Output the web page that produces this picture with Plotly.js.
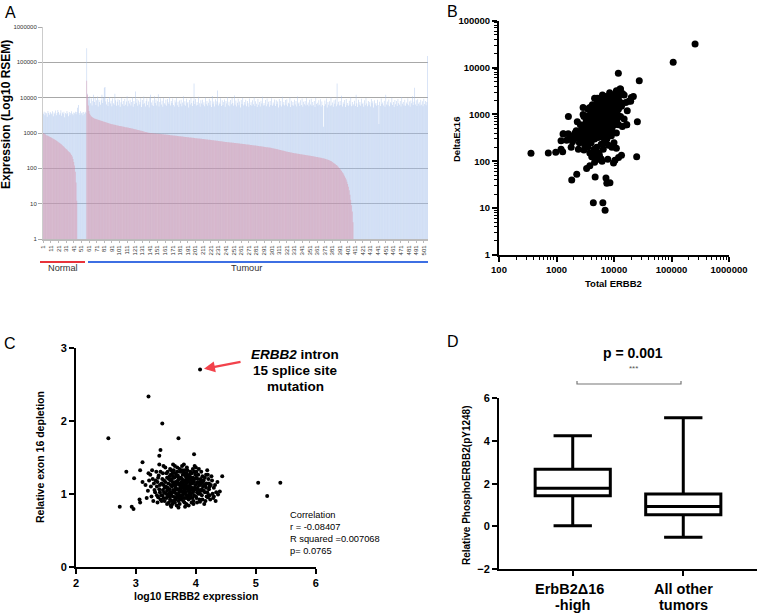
<!DOCTYPE html>
<html>
<head>
<meta charset="utf-8">
<script src="https://cdn.plot.ly/plotly-3.0.1.min.js"></script>
<style>
  html, body { margin: 0; padding: 0; background: #fff; }
  #chart { width: 757px; height: 615px; }
</style>
</head>
<body>
<div id="chart"></div>
<script>
// ---- Panel A: per-sample RSEM expression (samples 1..506) ----
const totalRsem = [
  3500,4000,3200,3800,3600,2900,4200,3700,3300,3900,
  3600,3400,4100,3000,3800,3500,4300,3200,3700,4500,
  3900,3300,3600,4400,3100,3800,3500,4000,2800,3700,
  3400,4200,3600,3000,3900,3300,3700,4100,3500,3200,
  3800,3600,4000,3400,3900,5200,6200,3700,3300,4100,
  3600,3800,3200,3900,3500,4000,3700,
  250000,13000,10000,8500,11000,7000,9500,6000,8000,12000,
  7500,9800,6200,8400,10800,5600,8800,7600,6300,8500,
  12000,7100,9900,19000,20000,7800,6400,9200,5800,7500,
  10500,6800,8200,5700,9400,7000,6300,13000,8400,5900,
  7700,9000,6100,8600,5500,7400,9800,6500,8000,5800,
  9200,6300,7800,11000,5700,8200,6800,8800,6000,7600,
  10200,5500,8000,6600,15000,7200,9100,5900,8300,6400,
  7500,9600,5400,8600,6500,10800,7000,5600,8100,9400,
  6200,7800,5300,10000,12000,7300,6100,8500,5800,11000,
  7100,8900,6000,7900,12500,5600,7600,9500,6400,8200,
  5500,9900,7000,6300,8700,5900,9200,7400,6600,10500,
  6000,8100,7100,9400,6200,5600,8400,7300,10000,6100,
  7700,5400,8300,6700,8800,5700,7300,11000,6300,7900,
  5900,9300,6900,7500,5300,8600,6400,9800,7100,5800,
  8200,25000,6600,9100,6000,7600,6200,10600,7000,5500,
  8400,6800,8700,6300,7400,5700,10100,6500,8000,5900,
  7200,9300,6100,8200,5400,11200,6700,7800,5600,9000,
  6400,7900,16000,6000,7300,6600,9600,5800,8500,6200,
  7500,8900,5500,8100,6800,10500,6100,7700,5700,8600,
  6500,10000,7100,5900,11500,6300,8300,5600,7200,9300,
  6100,7800,5300,8600,6600,9900,6000,7600,6400,8800,
  5700,8000,6900,5500,9400,6200,7400,5900,8400,6500,
  10300,5800,7900,6700,5400,9100,6300,7500,5600,8200,
  6800,10700,6000,7100,6100,8600,5700,9400,6500,7700,
  5500,8100,6200,9700,5900,7300,6400,8900,5800,8500,
  6600,7800,5300,9200,6100,8000,5600,10600,6400,7500,
  6000,8600,6300,9000,5700,7200,6700,10100,5400,8200,
  6100,7600,5900,8800,6400,8000,5600,10800,6800,7400,
  5800,8400,6200,9500,5500,7700,6500,8100,6000,9800,
  6300,7300,5700,8700,6400,9300,5900,7600,6100,8000,
  5400,10000,6600,7200,6000,8500,6300,9000,5600,7800,
  6200,1500,5800,8300,6500,9400,5300,7500,6300,7900,
  5900,10300,6100,7300,5500,8400,6700,8900,5700,25000,
  6400,7700,6000,8000,6200,11400,5600,7400,6600,8600,
  5400,9100,6100,7100,5900,8200,6400,10200,5700,7600,
  6000,
  6500,8200,5800,12000,7000,5400,8800,6300,7600,5900,
  9300,6600,7200,5500,8500,6100,9800,6800,5700,8000,
  6300,7500,5600,9100,6900,7900,5300,8400,6400,7100,
  5900,8700,6200,1800,7700,5800,9500,6600,7300,6000,
  8200,5500,12000,6400,7800,6100,8900,5700,7400,6800,
  9900,6200,7600,5400,8600,6500,8000,5800,9200,7000,
  6300,8100,5600,10500,6700,7500,6000,8800,5900,7300,
  6600,9600,6100,7800,5500,8300,6900,11000,6200,7700,
  19000,6400,8500,5800,9000,6700,7400,6000,8700,6300,
  7900,5700,9300,6600,8100,6100,7500,150000
];
const deltaNormalStart = 1;
const deltaNormal = [
  1000,960,930,900,870,850,830,810,790,770,
  750,730,710,690,670,650,630,610,590,570,
  550,530,510,490,470,450,430,410,390,370,
  350,335,320,305,290,275,260,240,215,185,
  150,120,80,40,12
];
const deltaTumourStart = 58;
const deltaTumour = [
  30000,12000,6000,4200,3500,3200,3000,2850,2750,2650,2580,2520,
  2500,2460,2420,2380,2340,2300,2260,2220,2180,2140,
  2100,2070,2040,2010,1980,1950,1920,1890,1860,1830,
  1800,1780,1760,1740,1720,1700,1680,1660,1640,1620,
  1600,1585,1570,1555,1540,1525,1510,1495,1480,1465,
  1450,1435,1420,1405,1390,1375,1360,1345,1330,1315,
  1300,1285,1270,1255,1240,1225,1210,1195,1180,1165,
  1150,1135,1120,1105,1090,1075,1060,1045,1030,1020,1010,1005,
  1000,995,990,985,980,975,970,965,
  960,955,950,945,940,935,930,925,920,915,
  910,905,900,895,890,885,880,875,870,865,
  860,855,850,845,840,835,830,825,820,815,
  810,805,800,795,790,785,780,775,770,765,
  760,756,752,748,744,740,736,732,728,724,
  720,716,712,708,704,700,696,692,688,684,
  680,676,672,668,664,660,656,652,648,644,
  640,636,632,628,624,620,616,612,608,604,
  600,596,592,588,584,580,576,572,568,564,
  560,557,554,551,548,545,542,539,536,533,
  530,527,524,521,518,515,512,509,506,503,
  500,497,494,491,488,485,482,479,476,473,
  470,467,464,461,458,455,452,449,446,443,
  440,437,434,431,428,425,422,419,416,413,
  410,407,404,401,398,395,392,389,386,383,
  380,376,372,368,364,360,356,352,348,344,
  340,336,332,328,324,320,316,312,308,304,
  300,297,294,291,288,285,282,279,276,273,
  270,268,266,264,262,260,258,256,254,252,
  250,248,246,244,242,240,238,236,234,232,
  230,228,226,224,222,220,218,216,214,212,
  210,208,206,204,202,200,198,196,194,192,
  190,187,184,181,178,175,172,168,164,160,
  155,150,145,140,135,130,125,120,114,108,
  102,96,90,84,78,72,66,60,54,48,
  42,36,30,24,18,13,9,6,3
];
const sampleTicks = [1,11,21,31,41,51,61,71,81,91,101,111,121,131,141,151,161,171,181,191,
  201,211,221,231,241,251,261,271,281,291,301,311,321,331,341,351,361,371,381,391,
  401,411,421,431,441,451,461,471,481,491,501];
const exprTicks = [1, 10, 100, 1000, 10000, 100000, 1000000];

// ---- Panel B: total ERBB2 vs DeltaEx16 ----
const panelBPoints = [
  [257000,31800],[107000,13000],[27500,5200],[11900,7600],[12700,3500],[360,148],[720,150],[970,155],
  [1200,180],[1280,160],[1600,385],[1610,900],[1320,385],[1200,275],[1840,40],[2250,53],[3000,175],
  [4370,13],[7000,9],[6400,13],[7250,44],[8500,35],[7500,34],[24800,125],[25500,700],[16700,600],
  [21700,2400],[19500,1900],[3340,70],[3800,80],[4700,46],[9800,92],[10400,105],[12000,120],[13500,135],
  [5100,2200],[2900,1400],[5300,110],[5850,115],[4100,125],[4400,140],
  [5000,700],[5500,800],[6000,650],[4500,600],[6500,900],[7000,1000],[4000,500],[5200,550],[5800,1100],[6200,750],
  [4800,850],[7500,1200],[3800,420],[6800,600],[5400,950],[4300,700],[8000,1300],[6100,500],[5600,1300],[4700,450],
  [7200,800],[3600,600],[6600,1500],[5100,380],[8500,1000],[4200,900],[7800,700],[5900,1700],[3300,350],[6900,1150],
  [4400,350],[9000,1500],[5300,1200],[6300,420],[7600,1600],[4100,780],[8200,900],[5700,480],[4900,1000],[6700,1300],
  [3500,800],[9500,1800],[7100,500],[5000,1400],[8800,1200],[4600,300],[6400,1900],[5500,600],[7400,950],[3900,650],
  [10000,2000],[6000,1000],[4500,1150],[8300,620],[5200,850],[7000,2100],[3700,300],[6500,350],[9200,800],[5800,750],
  [11000,1700],[4800,550],[6200,1600],[7700,1100],[5400,450],[8600,1500],[4000,1000],[6800,420],[10500,1300],[5100,650],
  [12000,2400],[3400,500],[7300,1400],[6100,880],[4300,380],[9800,1100],[5600,2200],[8000,480],[4700,1200],[6900,700],
  [11500,1000],[3200,450],[7900,1800],[5300,320],[6600,1050],[4100,560],[9400,2500],[5900,900],[7500,650],[4900,750],
  [2000,300],[2500,250],[1500,280],[1800,200],[2200,450],[2800,350],[3000,900],[2600,600],[1700,350],[2400,180],
  [3100,220],[2900,1000],[1300,380],[1900,260],[2300,700],[3500,1300],[2700,450],[3200,250],[2100,400],[2600,330],
  [13000,3500],[14000,2800],[15000,2600],[12500,3200],[16000,1800],[18000,1900],[20000,2300],[13500,1500],[17000,1200],[11000,3200],
  [10000,2600],[9000,2200],[12000,600],[14000,550],[11000,400],[13000,900],[10000,250],[9000,350],[15000,800],[16500,600],
  [8000,220],[7000,250],[6000,230],[5000,200],[4500,180],[5500,150],[6500,180],[7500,300],[8500,350],[9500,420],
  [4000,250],[3500,200],[3000,400],[4200,1600],[3800,1400],[4600,2200],[5200,2000],[6300,2600],[7200,2400],[8400,2900],
  [5000,120],[6000,110],[4600,95],[6200,100],[5600,130],[4200,140],[3800,150],[7800,110],[9200,200],[11000,190],
  [5500,1000],[6000,1200],[6500,1100],[7000,800],[7500,900],[8000,1000],[5000,900],[4500,800],[5800,600],[6300,700],
  [6800,1400],[7300,1700],[7800,1500],[8300,1200],[8800,1400],[9300,1600],[9800,1900],[10500,2200],[11000,2600],[12000,2000],
  [4300,550],[4700,650],[5100,750],[5600,900],[6100,1300],[6600,800],[7100,650],[7600,550],[8100,750],[8600,800],
  [3900,900],[4400,1000],[4900,1300],[5400,1600],[5900,1400],[6400,1200],[6900,950],[7400,1100],[7900,1300],[8400,1700],
  [3600,450],[4100,450],[4600,500],[5100,550],[5600,520],[6100,600],[6600,550],[7100,720],[7600,820],[8100,560],
  [3400,650],[3900,550],[4400,480],[4900,600],[5400,700],[5900,820],[6400,620],[6900,520],[7400,450],[7900,600],
  [9000,700],[9500,900],[10000,1100],[10500,800],[11000,900],[9000,1000],[8500,600],[10000,700],[12000,1300],[13000,1800],
  [3000,600],[3300,750],[3600,950],[4000,1200],[4400,1400],[5000,1700],[5600,1900],[6200,2300],[6800,1800],[7500,2000],
  [2800,500],[3200,380],[3700,350],[4200,320],[4700,380],[5200,420],[5700,380],[6300,330],[6800,300],[7300,380],
  [8000,400],[8700,450],[9400,550],[10200,600],[11200,750],[2500,420],[2300,330],[2700,280],[3300,280],[3900,250]
];
const bXTicks = [100, 1000, 10000, 100000, 1000000];
const bYTicks = [1, 10, 100, 1000, 10000, 100000];

// ---- Panel C: log10 ERBB2 vs relative exon 16 depletion ----
const panelCPoints = [
  [4.07,2.70],[3.21,2.33],[3.44,1.96],[2.54,1.76],[3.71,1.76],[3.41,1.60],[3.97,1.54],[3.39,1.52],
  [3.11,1.43],[2.84,1.30],[2.97,1.21],[3.11,1.16],[3.07,1.32],[2.73,0.82],[2.93,0.82],[2.96,0.79],
  [3.06,0.92],[3.07,0.88],[5.04,1.15],[5.41,1.15],[5.19,0.97],[4.44,1.24],[4.40,1.03],[4.30,0.96],
  [4.37,0.99],[3.21,1.28],[3.46,1.38],[3.59,0.82],[3.71,0.81],[3.82,0.82],[4.07,0.89],
  [3.50,1.10],[3.55,1.00],[3.60,1.20],[3.62,1.05],[3.65,0.95],[3.68,1.15],[3.70,1.25],[3.72,1.02],[3.75,1.10],[3.78,0.98],
  [3.80,1.18],[3.82,1.06],[3.85,1.28],[3.88,0.92],[3.90,1.12],[3.92,1.00],[3.95,1.22],[3.98,1.08],[4.00,0.96],[4.02,1.15],
  [3.52,1.22],[3.57,0.92],[3.63,1.32],[3.66,1.08],[3.71,0.90],[3.74,1.30],[3.77,1.20],[3.81,0.88],[3.84,1.14],[3.87,1.04],
  [3.91,1.30],[3.94,0.94],[3.97,1.16],[4.05,1.05],[4.08,1.20],[4.10,0.98],[4.12,1.10],[4.15,1.02],[4.18,1.14],[4.20,0.95],
  [3.45,1.05],[3.47,1.18],[3.42,0.98],[3.40,1.12],[3.38,1.25],[3.48,0.90],[3.53,1.30],[3.58,1.12],[3.61,0.86],[3.64,1.22],
  [3.67,1.00],[3.69,1.36],[3.73,1.12],[3.76,0.94],[3.79,1.08],[3.83,1.24],[3.86,0.96],[3.89,1.20],[3.93,1.08],[3.96,0.90],
  [3.99,1.26],[4.03,1.08],[4.06,0.92],[4.09,1.30],[4.13,1.18],[4.16,0.90],[4.22,1.06],[4.25,1.12],[4.28,1.00],[3.35,1.10],
  [3.56,1.06],[3.59,0.98],[3.66,1.16],[3.70,1.06],[3.74,0.98],[3.78,1.14],[3.83,1.02],[3.86,1.10],[3.90,1.04],[3.94,1.14],
  [3.60,1.10],[3.64,1.02],[3.68,0.94],[3.72,1.20],[3.76,1.04],[3.80,1.10],[3.84,0.94],[3.88,1.16],[3.92,1.22],[3.96,1.04],
  [3.54,1.14],[3.58,1.26],[3.62,0.96],[3.66,1.28],[3.70,0.98],[3.74,1.08],[3.78,1.26],[3.82,1.16],[3.86,1.32],[3.90,0.94],
  [3.44,1.20],[3.46,0.94],[3.50,1.00],[3.51,1.28],[3.55,0.88],[3.57,1.34],[3.63,1.12],[3.67,1.24],[3.71,1.14],[3.75,1.22],
  [3.79,0.90],[3.81,1.32],[3.85,1.08],[3.89,1.00],[3.93,1.28],[3.97,0.98],[4.01,1.22],[4.04,1.00],[4.07,1.12],[4.11,1.24],
  [3.41,1.30],[3.37,0.95],[3.43,0.90],[3.49,1.36],[3.53,0.96],[3.58,0.84],[3.65,1.38],[3.73,0.86],[3.77,1.38],[3.84,0.86],
  [3.95,1.34],[4.00,1.36],[4.14,0.86],[4.17,1.26],[4.21,1.20],[4.24,0.92],[4.27,1.18],[4.30,1.08],[4.19,1.02],[4.23,0.98],
  [3.30,1.14],[3.32,1.02],[3.28,1.20],[3.26,0.96],[3.34,1.30],[3.36,0.88],[3.25,1.10],[3.39,1.40],[3.62,1.40],[3.80,1.40],
  [3.98,1.38],[4.05,1.34],[3.68,0.84],[3.88,0.84],[3.96,0.86],[4.02,0.88],[3.52,0.86],[3.46,1.12],[3.60,0.90],[4.10,1.06],
  [3.31,1.05],[3.33,1.18],[3.35,0.98],[3.37,1.22],[3.39,1.06],[3.41,0.92],[3.43,1.14],[3.45,1.28],[3.47,1.02],[3.49,1.16],
  [3.51,0.94],[3.53,1.08],[3.55,1.20],[3.57,1.02],[3.59,1.32],[3.61,1.16],[3.63,0.90],[3.65,1.04],[3.67,1.12],[3.69,0.96],
  [3.71,1.22],[3.73,1.04],[3.75,0.92],[3.77,1.10],[3.79,1.30],[3.81,1.00],[3.83,1.12],[3.85,0.98],[3.87,1.24],[3.89,1.08],
  [3.91,0.96],[3.93,1.18],[3.95,1.02],[3.97,1.30],[3.99,1.12],[4.01,0.94],[4.03,1.20],[4.05,1.12],[4.07,1.00],[4.09,1.14],
  [4.11,0.92],[4.13,1.04],[4.15,1.22],[4.17,1.08],[4.19,1.32],[4.21,0.98],[4.23,1.10],[4.26,1.24],[4.29,0.94],[4.32,1.12],
  [3.52,1.04],[3.56,1.24],[3.60,1.02],[3.64,1.14],[3.68,1.06],[3.72,0.94],[3.76,1.16],[3.80,1.04],[3.84,1.20],[3.88,1.04],
  [3.92,1.14],[3.96,1.20],[4.00,1.06],[4.04,1.26],[4.08,1.04],[4.12,1.16],[4.16,1.12],[4.20,1.26],[3.48,1.08],[3.44,0.98],
  [3.54,0.98],[3.58,1.18],[3.62,1.24],[3.66,0.92],[3.70,1.18],[3.74,1.14],[3.78,1.02],[3.82,1.28],[3.86,1.18],[3.90,1.26],
  [3.94,1.06],[3.98,1.20],[4.02,1.02],[4.06,1.16],[4.10,1.18],[4.14,1.12],[4.18,0.96],[4.22,1.14],[3.40,1.02],[3.36,1.16],
  [3.61,1.28],[3.69,1.30],[3.77,1.32],[3.85,1.36],[3.93,0.88],[3.73,1.34],[3.57,0.96],[3.81,0.94],[4.01,1.30],[3.65,0.88],
  [3.20,1.04],[3.22,1.18],[3.18,0.94],[3.24,1.26],[3.16,1.12],[4.34,1.02],[4.36,1.16],[4.33,0.90],[3.29,0.90],[3.27,1.32]
];
const correlationLines = ["Correlation", "r = -0.08407", "R squared =0.007068", "p= 0.0765"];

// ---- Panel D: box plot summary ----
const groupLabels = [["ErbB2\u039416", "-high"], ["All other", "tumors"]];
const boxLower = [0.03, -0.51];
const boxQ1 = [1.43, 0.54];
const boxMedian = [1.79, 0.93];
const boxQ3 = [2.68, 1.52];
const boxUpper = [4.24, 5.09];

// pixel -> paper helpers
const W = 757, H = 615;
const fx = (p) => p / W;
const fy = (p) => 1 - p / H;

const FONT = "Liberation Sans, Arial, sans-serif";

const deltaX = [];
const deltaY = [];
deltaNormal.forEach((v, i) => { deltaX.push(deltaNormalStart + i); deltaY.push(v); });
deltaTumour.forEach((v, i) => { deltaX.push(deltaTumourStart + i); deltaY.push(v); });

// minor tick positions for the log axes (2..9 within each decade)
const minorLog = (lo, hi) => {
  const out = [];
  for (let d = lo; d < hi; d++) {
    for (let k = 2; k <= 9; k++) out.push(k * Math.pow(10, d));
  }
  return out;
};

const traces = [
  {
    type: "bar",
    x: totalRsem.map((_, i) => i + 1),
    y: totalRsem,
    marker: { color: "rgba(165,192,236,0.62)", line: { width: 0 } },
    xaxis: "x", yaxis: "y",
    hoverinfo: "skip",
  },
  {
    type: "bar",
    x: deltaX,
    y: deltaY,
    marker: { color: "rgba(222,128,150,0.5)", line: { width: 0 } },
    xaxis: "x", yaxis: "y",
    hoverinfo: "skip",
  },
  {
    type: "scatter",
    mode: "markers",
    x: panelBPoints.map((p) => p[0]),
    y: panelBPoints.map((p) => p[1]),
    marker: { color: "black", size: 7 },
    xaxis: "x2", yaxis: "y2",
  },
  {
    type: "scatter",
    mode: "markers",
    x: panelCPoints.map((p) => p[0]),
    y: panelCPoints.map((p) => p[1]),
    marker: { color: "black", size: 4 },
    xaxis: "x3", yaxis: "y3",
    cliponaxis: false,
  },
  {
    type: "box",
    x: [0, 1],
    q1: boxQ1,
    median: boxMedian,
    q3: boxQ3,
    lowerfence: boxLower,
    upperfence: boxUpper,
    width: 0.68,
    whiskerwidth: 0.51,
    boxpoints: false,
    line: { color: "black", width: 3 },
    fillcolor: "white",
    xaxis: "x4", yaxis: "y4",
  },
];

const blackAxis = {
  showline: true,
  linecolor: "black",
  linewidth: 2,
  ticks: "outside",
  ticklen: 5,
  tickwidth: 2,
  tickcolor: "black",
  showgrid: false,
  zeroline: false,
  fixedrange: true,
};

const ann = (x, y, text, size, extra) =>
  Object.assign(
    {
      xref: "paper", yref: "paper",
      x: fx(x), y: fy(y),
      text: text,
      showarrow: false,
      xanchor: "center", yanchor: "middle",
      font: { family: FONT, size: size, color: "black" },
    },
    extra || {},
  );

const annotations = [
  ann(10, 12, "A", 16),
  ann(453, 11, "B", 16),
  ann(10, 343, "C", 16),
  ann(453, 341, "D", 16),
  ann(6, 115, "<b>Expression (Log10 RSEM)</b>", 12, { textangle: -90 }),
  ann(63, 268, "Normal", 9.2, { font: { family: FONT, size: 9.2, color: "#333" } }),
  ann(247, 268, "Tumour", 9.2, { font: { family: FONT, size: 9.2, color: "#333" } }),
  ann(456, 140, "<b>DeltaEx16</b>", 9.5, { textangle: -90 }),
  ann(613, 283, "<b>Total ERBB2</b>", 9.5),
  ann(40, 457, "<b>Relative exon 16 depletion</b>", 10.5, { textangle: -90 }),
  ann(196, 596, "<b>log10 ERBB2 expression</b>", 10.5),
  ann(295, 354, "<b><i>ERBB2</i> intron</b>", 13.5),
  ann(295, 370.5, "<b>15 splice site</b>", 13.5),
  ann(295, 386.5, "<b>mutation</b>", 13.5),
  ann(288, 532.5, correlationLines.join("<br>"), 9.3, { xanchor: "left", align: "left" }),
  {
    xref: "x3", yref: "y3",
    x: panelCPoints[0][0], y: panelCPoints[0][1],
    ax: 42, ay: -8, axref: "pixel", ayref: "pixel",
    text: "",
    showarrow: true,
    arrowhead: 2, arrowsize: 1, arrowwidth: 2.2,
    arrowcolor: "#f2424b",
    standoff: 4,
  },
  ann(466, 485, "<b>Relative PhosphoERBB2(pY1248)</b>", 10, { textangle: -90 }),
  ann(633, 353, "<b>p = 0.001</b>", 14),
  ann(633, 368, "***", 8, { font: { family: FONT, size: 8, color: "#555" } }),
];
groupLabels.forEach((lines, gi) => {
  lines.forEach((line, li) => {
    annotations.push({
      xref: "x4", yref: "paper",
      x: gi, y: fy(589 + li * 16),
      xshift: gi === 0 && li === 0 ? -3 : 0,
      text: "<b>" + line + "</b>",
      showarrow: false,
      xanchor: "center", yanchor: "middle",
      font: { family: FONT, size: 14.5, color: "black" },
    });
  });
});

const shapes = [
  { type: "line", xref: "paper", yref: "paper", x0: fx(40), x1: fx(85), y0: fy(262), y1: fy(262),
    line: { color: "#e8333a", width: 2 } },
  { type: "line", xref: "paper", yref: "paper", x0: fx(88), x1: fx(428), y0: fy(262), y1: fy(262),
    line: { color: "#3d6fe3", width: 2 } },
  { type: "path", xref: "paper", yref: "paper",
    path: "M" + fx(577) + "," + fy(381) + " L" + fx(577) + "," + fy(384) +
          " L" + fx(681) + "," + fy(384) + " L" + fx(681) + "," + fy(381),
    line: { color: "#777", width: 1.2 } },
];

const layout = {
  width: W,
  height: H,
  margin: { l: 0, r: 0, t: 0, b: 0, pad: 0 },
  paper_bgcolor: "white",
  plot_bgcolor: "white",
  showlegend: false,
  barmode: "overlay",
  bargap: 0.12,
  font: { family: FONT, color: "black" },
  xaxis: {
    domain: [fx(43), fx(428)],
    range: [0.5, 506.5],
    anchor: "y",
    tickmode: "array",
    tickvals: sampleTicks,
    ticktext: sampleTicks.map(String),
    tickangle: -90,
    tickfont: { family: FONT, size: 6, color: "#333" },
    ticks: "outside",
    ticklen: 2,
    tickcolor: "#bbb",
    showline: true,
    linecolor: "#bbb",
    linewidth: 2,
    showgrid: false,
    zeroline: false,
    fixedrange: true,
  },
  yaxis: {
    domain: [fy(239), fy(27)],
    type: "log",
    range: [0, 6],
    anchor: "x",
    tickmode: "array",
    tickvals: exprTicks,
    ticktext: exprTicks.map(String),
    tickfont: { family: FONT, size: 6, color: "#333" },
    ticks: "outside",
    ticklen: 4,
    tickcolor: "#aaa",
    showgrid: true,
    gridcolor: "#a8a8a8",
    gridwidth: 1,
    showline: true,
    linecolor: "#ccc",
    zeroline: false,
    fixedrange: true,
  },
  xaxis2: Object.assign({}, blackAxis, {
    domain: [fx(499), fx(729)],
    anchor: "y2",
    type: "log",
    range: [2, 6],
    tickmode: "array",
    tickvals: bXTicks,
    ticktext: bXTicks.map(String),
    tickfont: { family: FONT, size: 9.5, weight: "bold" },
    minor: { tickmode: "array", tickvals: minorLog(2, 6), ticks: "outside", ticklen: 3, tickwidth: 1, tickcolor: "black" },
  }),
  yaxis2: Object.assign({}, blackAxis, {
    domain: [fy(255), fy(20.7)],
    anchor: "x2",
    type: "log",
    range: [0, 5],
    tickmode: "array",
    tickvals: bYTicks,
    ticktext: bYTicks.map(String),
    tickfont: { family: FONT, size: 9.5, weight: "bold" },
    minor: { tickmode: "array", tickvals: minorLog(0, 5), ticks: "outside", ticklen: 3, tickwidth: 1, tickcolor: "black" },
  }),
  xaxis3: Object.assign({}, blackAxis, {
    domain: [fx(76), fx(315.7)],
    anchor: "y3",
    range: [2, 6],
    dtick: 1,
    tickfont: { family: FONT, size: 11, weight: "bold" },
  }),
  yaxis3: Object.assign({}, blackAxis, {
    domain: [fy(566.7), fy(347.7)],
    anchor: "x3",
    range: [0, 3],
    dtick: 1,
    tickfont: { family: FONT, size: 11, weight: "bold" },
  }),
  xaxis4: Object.assign({}, blackAxis, {
    domain: [fx(499), 1],
    anchor: "y4",
    range: [-0.667, 1.667],
    tickmode: "array",
    tickvals: [0, 1],
    showticklabels: false,
  }),
  yaxis4: Object.assign({}, blackAxis, {
    domain: [fy(569), fy(398.3)],
    anchor: "x4",
    range: [-2, 6],
    dtick: 2,
    tickfont: { family: FONT, size: 11, weight: "bold" },
  }),
  annotations: annotations,
  shapes: shapes,
};

Plotly.newPlot(document.getElementById("chart"), traces, layout, {
  displayModeBar: false,
  staticPlot: true,
});
</script>
</body>
</html>
